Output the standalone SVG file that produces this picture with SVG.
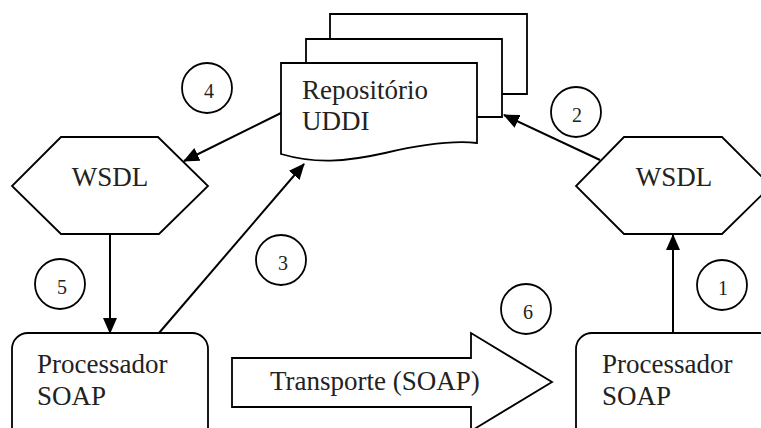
<svg xmlns="http://www.w3.org/2000/svg" width="761" height="428" viewBox="0 0 761 428">
<defs>
<marker id="ah" markerUnits="userSpaceOnUse" markerWidth="16" markerHeight="14" refX="15" refY="7" orient="auto">
<path d="M0,0 L16,7 L0,14 Z" fill="#000"/>
</marker>
</defs>
<rect width="761" height="428" fill="#fff"/>
<g id="repositorio" fill="#fff" stroke="#000" stroke-width="1.8">
<path d="M330,14 H527 V94 H330 Z"/>
<path d="M306,39 H502 V117 H306 Z"/>
<path d="M281,63 H477 V143 C450,140 415,146 385,153 C345,162 315,164 281,154 Z"/>
</g>
<g id="repositorio-texto" font-family="Liberation Serif, serif" font-size="27" fill="#222">
<text x="302" y="99">Reposit&#243;rio</text>
<text x="302" y="130">UDDI</text>
</g>
<g id="wsdl-esq">
<polygon points="61,137 158,137 208,186 159,234 61,234 12,186" fill="#fff" stroke="#000" stroke-width="1.8"/>
<text x="110" y="186" text-anchor="middle" font-family="Liberation Serif, serif" font-size="27" fill="#222">WSDL</text>
</g>
<g id="wsdl-dir">
<polygon points="624,137 722,137 771,186 722,234 624,234 576,186" fill="#fff" stroke="#000" stroke-width="1.8"/>
<text x="674" y="186" text-anchor="middle" font-family="Liberation Serif, serif" font-size="27" fill="#222">WSDL</text>
</g>
<g id="proc-esq">
<rect x="12" y="333" width="196" height="110" rx="16" fill="#fff" stroke="#000" stroke-width="1.8"/>
<text x="37" y="373" font-family="Liberation Serif, serif" font-size="27" fill="#222">Processador</text>
<text x="37" y="405" font-family="Liberation Serif, serif" font-size="27" fill="#222">SOAP</text>
</g>
<g id="proc-dir">
<rect x="576" y="333" width="200" height="110" rx="16" fill="#fff" stroke="#000" stroke-width="1.8"/>
<text x="602" y="373" font-family="Liberation Serif, serif" font-size="27" fill="#222">Processador</text>
<text x="602" y="405" font-family="Liberation Serif, serif" font-size="27" fill="#222">SOAP</text>
</g>
<g id="transporte">
<polygon points="232,358 471,358 471,333 552,382 471,431 471,407 232,407" fill="#fff" stroke="#000" stroke-width="1.8"/>
<text x="270" y="390" font-family="Liberation Serif, serif" font-size="27" fill="#222">Transporte (SOAP)</text>
</g>
<g id="numeros" fill="none" stroke="#000" stroke-width="1.8">
<circle cx="722" cy="285" r="25"/>
<circle cx="576" cy="112" r="25"/>
<circle cx="281" cy="260" r="25"/>
<circle cx="207" cy="88" r="25"/>
<circle cx="60" cy="284" r="25"/>
<circle cx="526" cy="309" r="25"/>
</g>
<g id="numeros-texto" font-family="Liberation Serif, serif" font-size="20" fill="#222" text-anchor="middle">
<text x="723" y="295">1</text>
<text x="577" y="122">2</text>
<text x="283" y="270">3</text>
<text x="209" y="98">4</text>
<text x="62" y="294">5</text>
<text x="528" y="319">6</text>
</g>
<g id="conectores" fill="none" stroke="#000" stroke-width="2">
<line x1="673" y1="333" x2="673" y2="235" marker-end="url(#ah)"/>
<line x1="600" y1="160" x2="504" y2="115" marker-end="url(#ah)"/>
<line x1="159" y1="333" x2="304" y2="164" marker-end="url(#ah)"/>
<line x1="281" y1="113" x2="184" y2="161" marker-end="url(#ah)"/>
<line x1="110" y1="234" x2="110" y2="333" marker-end="url(#ah)"/>
</g>
</svg>
